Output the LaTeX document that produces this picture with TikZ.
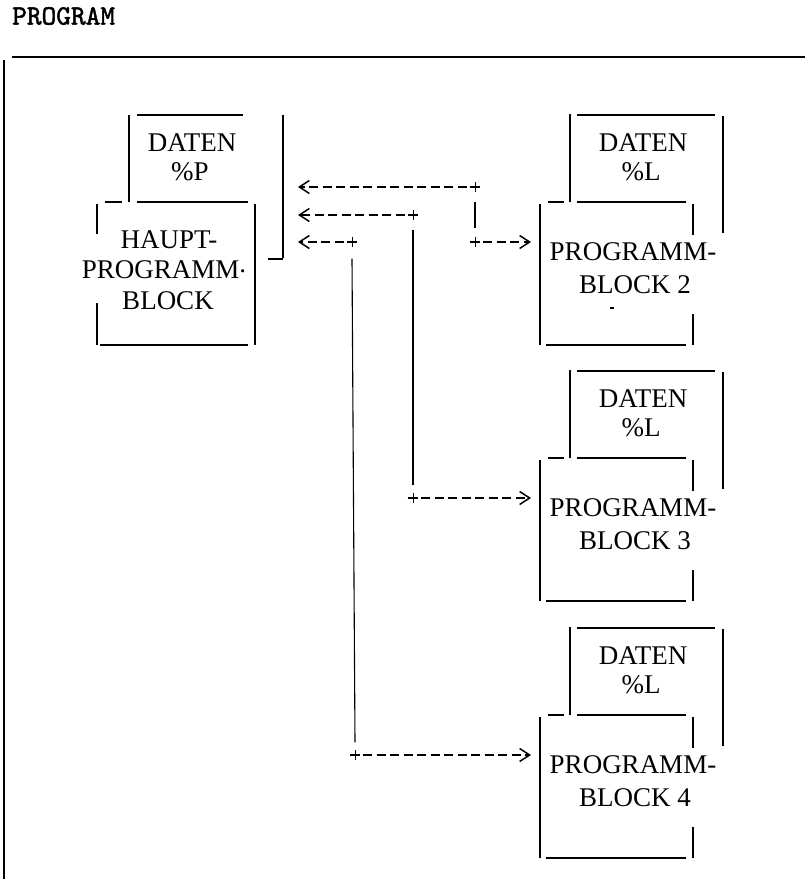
\documentclass[tikz,border=0pt]{standalone}
\usepackage{fontspec}
\setmainfont{Liberation Serif}
\newfontfamily\titlefont{lmmono10-regular}[Extension=.otf, FakeBold=1.6]
\usetikzlibrary{arrows.meta}
\tikzset{
  hline/.style={line width=2.2pt},
  vline/.style={line width=1.1pt},
  lbl/.style={inner sep=0pt, font=\fontsize{27}{29}\selectfont},
  plusnode/.style={inner sep=0pt, minimum width=10pt, minimum height=9pt},
  dashline/.style={line width=2pt, dash pattern=on 9pt off 4.5pt},
  chev/.style={-{Straight Barb[length=10pt,width=13pt,line width=1.5pt]}},
}
\newcommand\subblock[3]{%
\begin{scope}[yshift=-#1pt]
 \draw[hline] (577,115) -- (715,115);
 \draw[vline] (570,114) -- (570,202);
 \draw[vline] (723,116) -- (723,233);
 \draw[hline] (548,202) -- (564,202);
 \draw[hline] (577,202) -- (686,202);
 \draw[vline] (540,204) -- (540,345);
 \draw[vline] (693,204) -- (693,235);
 \draw[vline] (693,314) -- (693,345);
 \draw[hline] (546,345) -- (686,345);
 \node[lbl] (d#2) at (643,143) {DATEN};
 \node[lbl] (l#2) at (641,172) {\%L};
 \node[lbl] (g#2) at (633,252) {PROGRAMM-};
 \node[lbl] (b#2) at (635,285) {BLOCK #3};
 \coordinate (e#2) at (531,242);
\end{scope}}
\begin{document}
\begin{tikzpicture}[x=1pt,y=-1pt]
\useasboundingbox (0,0) rectangle (805,879);
% title and frame
\node[anchor=west, inner sep=0pt, font=\titlefont\fontsize{28}{28}\selectfont] (title) at (12,16) {PROGRAM};
\draw[line width=2.2pt] (12,57) -- (805,57);
\draw[vline] (4,60) -- (4,879);
% main block
\draw[hline] (137,115) -- (243,115);
\draw[vline] (129,115) -- (129,202);
\draw[vline] (283,115) -- (283,258);
\draw[hline] (268,259) -- (283,259);
\draw[hline] (105,202) -- (122,202);
\draw[hline] (137,202) -- (248,202);
\draw[vline] (97,204) -- (97,234);
\draw[vline] (97,303) -- (97,345);
\draw[vline] (255,204) -- (255,345);
\draw[hline] (100,345) -- (248,345);
\node[lbl] (dm) at (192,143) {DATEN};
\node[lbl] (pm) at (190,172) {\%P};
\node[lbl] (hm) at (169,240) {HAUPT-};
\node[lbl] (gm) at (164,270) {PROGRAMM\raisebox{0.25em}{.}};
\node[lbl] (bm) at (168,301) {BLOCK};
% sub blocks
\subblock{0}{2}{2}
\subblock{256}{3}{3}
\subblock{513}{4}{4}
\draw[vline] (610,308) -- (614,308);
% return paths
\coordinate (t1) at (298,187);
\coordinate (t2) at (298,215);
\coordinate (t3) at (298,242);
\node[plusnode] (p1) at (475,187) {};
\node[plusnode] (p2) at (413,215) {};
\node[plusnode] (p3) at (352,242) {};
\node[plusnode] (q2) at (475,242) {};
\node[plusnode] (q3) at (413,498) {};
\node[plusnode] (q4) at (355,755) {};
\foreach \n in {p1,p2,p3,q2,q3,q4}{
  \draw[line width=2pt] (\n.west) -- (\n.east);
  \draw[line width=0.8pt] (\n.north) -- (\n.south);
}
\draw[dashline,chev] ([xshift=-3pt]p1.west) -- (t1);
\draw[dashline,chev] ([xshift=-3pt]p2.west) -- (t2);
\draw[dashline,chev] ([xshift=-3pt]p3.west) -- (t3);
\draw[vline] ([yshift=-10pt]p1.south) -- ([yshift=9pt]q2.north);
\draw[vline] ([yshift=-10pt]p2.south) -- ([yshift=8pt]q3.north);
\draw[vline] ([yshift=-12pt]p3.south) -- ([yshift=8pt]q4.north);
\draw[dashline,chev] ([xshift=3pt]q2.east) -- (e2);
\draw[dashline,chev] ([xshift=3pt]q3.east) -- (e3);
\draw[dashline,chev] ([xshift=3pt]q4.east) -- (e4);
\end{tikzpicture}
\end{document}
